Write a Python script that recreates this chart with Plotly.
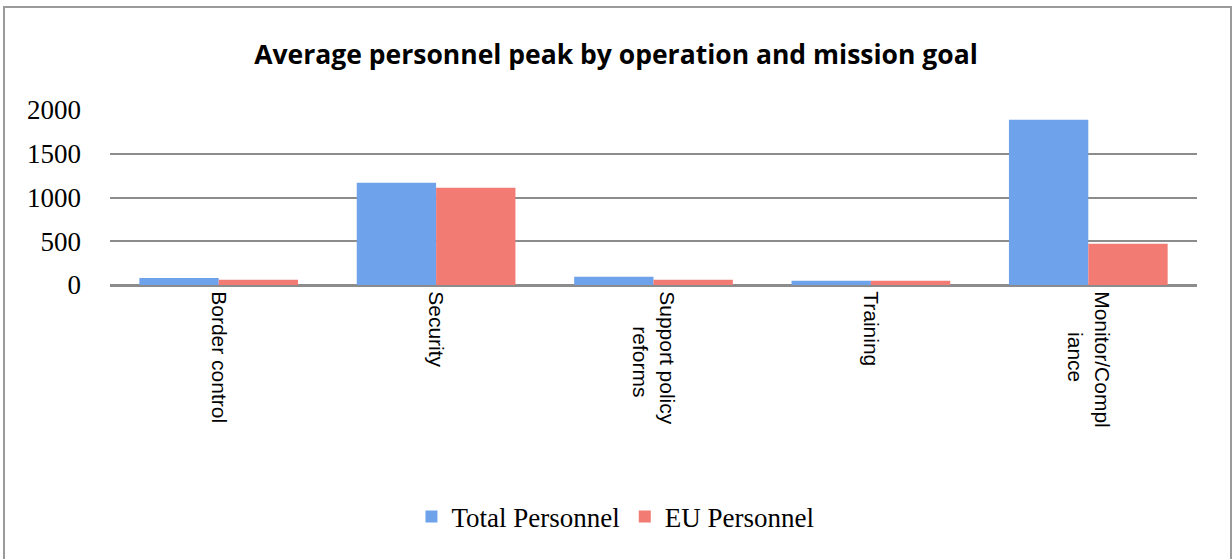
import plotly.graph_objects as go

# second lines padded with non-breaking spaces so they sit centred under the first line
categories = [
    "Border control",
    "Security",
    "Support policy<br>" + "&nbsp;" * 6 + "reforms",
    "Training",
    "Monitor/Compl<br>" + "&nbsp;" * 7 + "iance",
]
total_personnel = [80, 1170, 95, 50, 1890]
eu_personnel = [60, 1112, 60, 48, 472]
y_ticks = [0, 500, 1000, 1500, 2000]

serif = "Liberation Serif"
sans = "Liberation Sans"

# plot area in page pixels: x 110..1197, y 110..285
px_w, px_h = 1087, 175

fig = go.Figure()
fig.add_trace(go.Bar(x=categories, y=total_personnel, name="Total Personnel",
                     marker={"color": "#6ea3ec", "line": {"width": 0}}))
fig.add_trace(go.Bar(x=categories, y=eu_personnel, name="EU Personnel",
                     marker={"color": "#f27b73", "line": {"width": 0}}))

fig.update_layout(
    width=1232,
    height=559,
    paper_bgcolor="white",
    plot_bgcolor="white",
    margin={"l": 110, "r": 35, "t": 110, "b": 274},
    barmode="group",
    bargap=0.27,
    bargroupgap=0,
    title={
        "text": "<b>Average personnel peak by operation and mission goal</b>",
        "x": 0.5, "xanchor": "center", "y": 1 - 55 / 559, "yanchor": "middle",
        "font": {"family": "Open Sans", "size": 26.5, "color": "black"},
    },
    legend={
        "orientation": "h", "x": 0.465, "xanchor": "center",
        "y": -(517 - 285) / px_h, "yanchor": "middle",
        "font": {"family": serif, "size": 27, "color": "black"},
        "itemwidth": 30,
    },
    shapes=[{
        "type": "rect", "xref": "paper", "yref": "paper",
        "x0": (4 - 110) / px_w, "x1": (1231 - 110) / px_w,
        "y0": -(575 - 285) / px_h, "y1": (285 - 7) / px_h,
        "line": {"color": "#9a9a9a", "width": 2}, "layer": "below",
    }],
)
fig.update_xaxes(
    tickangle=90,
    tickfont={"family": sans, "size": 21, "color": "black"},
    showline=True, linecolor="#8c8c8c", linewidth=2,
    ticks="",
)
fig.update_yaxes(
    range=[0, 2000],
    tickvals=y_ticks,
    tickfont={"family": serif, "size": 27, "color": "black"},
    showgrid=True, gridcolor="#8c8c8c", gridwidth=2,
    zeroline=True, zerolinecolor="#8c8c8c", zerolinewidth=2,
    ticklabelstandoff=28,
)

fig.write_html(
    "out.html",
    config={"displayModeBar": False},
    post_script="document.body.style.margin='0';document.body.style.overflow='hidden';",
)
